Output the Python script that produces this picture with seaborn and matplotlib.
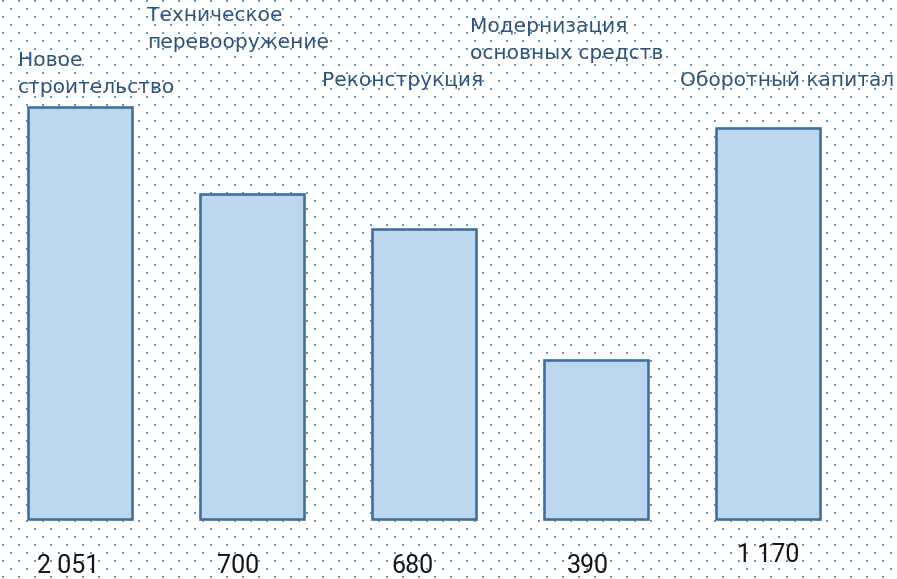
import numpy as np
import pandas as pd
import matplotlib
matplotlib.use("Agg")
import matplotlib.pyplot as plt
import seaborn as sns

# ---- data ----
categories = ["Новое\nстроительство", "Техническое\nперевооружение", "Реконструкция",
              "Модернизация\nосновных средств", "Оборотный капитал"]
value_labels = ["2 051", "700", "680", "390", "1 170"]
# drawn bar heights (relative units, tallest = 100), as they appear in the picture
heights = [100, 79, 70.5, 38.7, 94.8]

df = pd.DataFrame({"cat": categories, "h": heights})

sns.set_theme(style="white")
plt.rcParams["font.family"] = ["DejaVu Sans"]

W, H = 897, 579
fig = plt.figure(figsize=(W / 100, H / 100), dpi=100)
fig.patch.set_facecolor("white")

# background dotted pattern
bg = fig.add_axes([0, 0, 1, 1], zorder=0)
bg.set_xlim(0, W)
bg.set_ylim(H, 0)
bg.axis("off")
xs1, ys1 = np.meshgrid(np.arange(2, W, 16), np.arange(0, H, 16))
xs2, ys2 = np.meshgrid(np.arange(10, W, 16), np.arange(8, H, 16))
bx = np.concatenate([xs1.ravel(), xs2.ravel()])
by = np.concatenate([ys1.ravel(), ys2.ravel()])
bg.scatter(bx + 1, by + 1, s=2.6, marker="s", color="#5b9bd5", linewidths=0)

ax = fig.add_axes([0, 0, 1, 1], zorder=1)
ax.patch.set_alpha(0)
sns.barplot(data=df, x="cat", y="h", ax=ax, color="#bdd7ee", saturation=1,
            width=0.6, edgecolor="#41719c", linewidth=1.9)
for p in ax.patches:
    p.set_facecolor("#bdd7ee")

# axis scaling so the picture fits the canvas
px_per_cat = 172
left_px = 80
base_px = 519
px_per_unit = 4.12
ax.set_xlim(-left_px / px_per_cat, (W - left_px) / px_per_cat)
ax.set_ylim(-(H - base_px) / px_per_unit, base_px / px_per_unit)
ax.axis("off")

# value labels under bars (small pixel nudges as in the picture)
value_nudge = [(-12, 0), (-14, 0), (-12, 0), (-8, 0), (0, 11)]
for i, (lab, (dx, dy)) in enumerate(zip(value_labels, value_nudge)):
    ax.annotate(lab, (i, 0), xycoords="data",
                xytext=(dx * 0.72, (-47 + dy) * 0.72), textcoords="offset points",
                ha="center", va="center", fontsize=18,
                color="#151515", family="Roboto")

# category labels (positions in pixels)
label_pos = [(18, 74), (147, 29), (322, 80), (470, 40), (680, 80)]
for (x, y), txt in zip(label_pos, categories):
    fig.text(x / W, 1 - y / H, txt, ha="left", va="center", fontsize=14.5,
             color="#2f5479", linespacing=1.55)

fig.savefig("out.png", dpi=100)
